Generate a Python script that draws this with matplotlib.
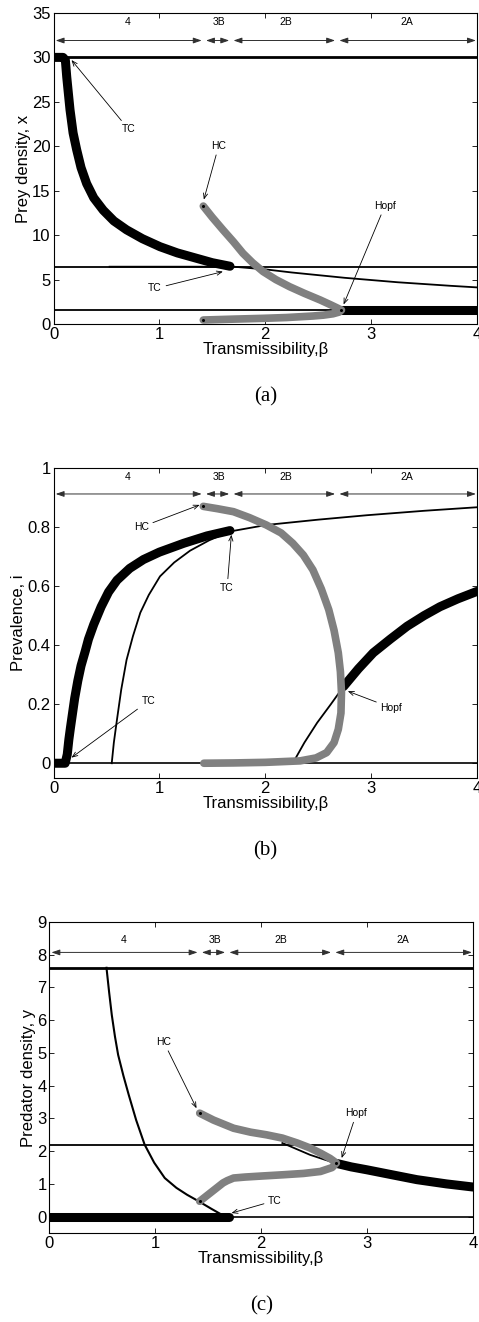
import matplotlib
matplotlib.use('Agg')
import matplotlib.pyplot as plt
from matplotlib.ticker import FormatStrFormatter

plt.rcParams['font.family'] = ['Liberation Sans', 'DejaVu Sans']

BLACK = 'black'
GRAY = '#808080'

# regions along the beta axis (double arrows on top of each panel)
region_labels = ['4', '3B', '2B', '2A']
region_label_pos = [0.70, 1.56, 2.19, 3.34]
region_starts = [0.02, 1.44, 1.70, 2.70]
region_ends = [1.40, 1.66, 2.66, 3.99]

# ---- (a) prey density ----
a_levels = [30.0, 6.45, 1.57]
a_stable_beta = [0, 0.09, 0.112, 0.125, 0.14, 0.156, 0.185, 0.219, 0.26, 0.313, 0.38,
                 0.47, 0.57, 0.69, 0.84, 1.006, 1.17, 1.35, 1.5, 1.667]
a_stable_x = [30, 30, 29.7, 27.8, 26.0, 24.1, 21.5, 19.6, 17.6, 15.8, 14.2,
              12.8, 11.6, 10.6, 9.6, 8.7, 8.0, 7.4, 6.9, 6.5]
a_branch_beta = [0.53, 1.7, 1.85, 2.0, 2.25, 2.5, 2.75, 3.0, 3.25, 3.5, 3.75, 4.0]
a_branch_x = [6.45, 6.45, 6.3, 6.15, 5.8, 5.5, 5.2, 4.95, 4.7, 4.5, 4.3, 4.12]
a_hopf_beta = [2.72, 4.0]
a_hopf_x = [1.57, 1.57]
a_cycle_beta = [1.415, 1.5, 1.6, 1.7, 1.79, 1.88, 1.98, 2.1, 2.23, 2.37, 2.52, 2.62, 2.69,
                2.72, 2.70, 2.64, 2.55, 2.45, 2.2, 1.98, 1.7, 1.415]
a_cycle_x = [13.27, 12.0, 10.6, 9.25, 7.95, 6.9, 5.9, 5.0, 4.2, 3.45, 2.7, 2.15, 1.75,
             1.57, 1.35, 1.15, 1.0, 0.9, 0.73, 0.64, 0.55, 0.45]

# ---- (b) prevalence ----
b_stable_beta = [0, 0.11, 0.13, 0.145, 0.16, 0.18, 0.20, 0.23, 0.26, 0.30, 0.33, 0.38,
                 0.45, 0.52, 0.60, 0.72, 0.85, 1.0, 1.23, 1.45, 1.667]
b_stable_i = [0, 0, 0.03, 0.08, 0.12, 0.17, 0.22, 0.28, 0.33, 0.38, 0.42, 0.47,
              0.53, 0.58, 0.62, 0.66, 0.69, 0.715, 0.745, 0.77, 0.788]
b_branch_beta = [0.55, 0.57, 0.60, 0.64, 0.69, 0.75, 0.82, 0.9, 1.006, 1.14, 1.29, 1.47,
                 1.667, 2.01, 2.5, 2.96, 3.5, 4.0]
b_branch_i = [0, 0.07, 0.149, 0.25, 0.35, 0.43, 0.51, 0.57, 0.633, 0.68, 0.72, 0.755,
              0.785, 0.807, 0.825, 0.84, 0.855, 0.867]
b_cycle_beta = [1.415, 1.55, 1.70, 1.85, 2.01, 2.15, 2.26, 2.36, 2.45, 2.53, 2.60, 2.65,
                2.69, 2.71, 2.72, 2.715, 2.69, 2.65, 2.58, 2.48, 2.33, 2.0, 1.7, 1.42]
b_cycle_i = [0.87, 0.862, 0.852, 0.832, 0.807, 0.78, 0.745, 0.705, 0.655, 0.59, 0.52, 0.45,
             0.374, 0.31, 0.239, 0.17, 0.115, 0.07, 0.036, 0.018, 0.008, 0.003, 0.001, 0.0]
b_unst_beta = [2.26, 2.37, 2.49, 2.62, 2.74]
b_unst_i = [0, 0.07, 0.137, 0.2, 0.26]
b_hopf_beta = [2.74, 2.88, 3.02, 3.18, 3.34, 3.5, 3.65, 3.82, 4.0]
b_hopf_i = [0.26, 0.32, 0.374, 0.42, 0.464, 0.5, 0.53, 0.557, 0.582]

# ---- (c) predator density ----
c_levels = [7.6, 2.2, 0.0]
c_zero_beta = [0, 1.70]
c_zero_y = [0, 0]
c_branch_beta = [0.54, 0.565, 0.59, 0.62, 0.65, 0.70, 0.75, 0.82, 0.90, 0.99, 1.09, 1.2,
                 1.3, 1.41, 1.53, 1.66]
c_branch_y = [7.6, 6.85, 6.16, 5.5, 4.94, 4.3, 3.72, 2.95, 2.2, 1.65, 1.18, 0.88,
              0.67, 0.47, 0.24, 0.0]
c_cycle_beta = [1.42, 1.55, 1.74, 1.9, 2.05, 2.2, 2.34, 2.46, 2.56, 2.65, 2.71, 2.67,
                2.56, 2.4, 2.21, 2.0, 1.85, 1.74, 1.68, 1.64, 1.53, 1.42]
c_cycle_y = [3.16, 2.95, 2.70, 2.58, 2.5, 2.4, 2.25, 2.1, 1.94, 1.78, 1.64, 1.5,
             1.38, 1.32, 1.28, 1.24, 1.21, 1.18, 1.1, 1.03, 0.75, 0.47]
c_unst_beta = [2.2, 2.33, 2.46, 2.6, 2.72]
c_unst_y = [2.25, 2.07, 1.89, 1.74, 1.62]
c_hopf_beta = [2.72, 2.85, 3.0, 3.25, 3.47, 3.75, 4.0]
c_hopf_y = [1.62, 1.52, 1.43, 1.27, 1.13, 1.0, 0.905]


def thick(ax, x, y, color=BLACK, lw=6.5):
    ax.plot(x, y, color=color, lw=lw, solid_capstyle='round',
            solid_joinstyle='round', zorder=3)


def thin(ax, x, y, lw=1.1):
    ax.plot(x, y, color=BLACK, lw=lw, zorder=2)


def regions(ax, y_arrow, y_text):
    for s, e in zip(region_starts, region_ends):
        ax.annotate('', xy=(e, y_arrow), xytext=(s, y_arrow),
                    arrowprops=dict(arrowstyle='<|-|>,head_length=0.5,head_width=0.17',
                                    color='#303030', lw=0.7, shrinkA=0, shrinkB=0))
    for lab, xp in zip(region_labels, region_label_pos):
        ax.text(xp, y_text, lab, fontsize=7.5, ha='center', va='center')


def note(ax, label, tip, txt, ha='center', va='center'):
    ax.annotate(label, xy=tip, xytext=txt, fontsize=7.5, ha=ha, va=va,
                arrowprops=dict(arrowstyle='->,head_length=0.5,head_width=0.2',
                                color=BLACK, lw=0.6, shrinkA=1, shrinkB=0))


def setup(ax, ylim, yticks, ylabel, caption):
    ax.set_xlim(0, 4)
    ax.set_ylim(*ylim)
    ax.set_xticks([0, 1, 2, 3, 4])
    ax.set_yticks(yticks)
    ax.yaxis.set_major_formatter(FormatStrFormatter('%g'))
    ax.tick_params(direction='in', top=True, right=True, length=3.5, width=0.6,
                   labelsize=12, pad=2)
    for sp in ax.spines.values():
        sp.set_linewidth(0.8)
    ax.set_xlabel('Transmissibility,β', fontsize=12, labelpad=0)
    ax.set_ylabel(ylabel, fontsize=12, labelpad=1)
    ax.text(0.5, -0.235, caption, transform=ax.transAxes, ha='center', va='center',
            fontsize=15, family=['Liberation Serif', 'DejaVu Serif'])


def dots(ax, pts):
    for p in pts:
        ax.plot(*p, 'o', color=BLACK, ms=1.2, zorder=5)


fig = plt.figure(figsize=(4.79, 13.22), dpi=100)

# (a)
ax = fig.add_axes([0.1117, 0.7549, 0.8841, 0.2353])
for lv, w in zip(a_levels, [2.0, 1.3, 1.3]):
    ax.axhline(lv, color=BLACK, lw=w, zorder=2)
thin(ax, a_branch_beta, a_branch_x, lw=1.3)
thick(ax, a_stable_beta, a_stable_x)
thick(ax, a_hopf_beta, a_hopf_x)
thick(ax, a_cycle_beta, a_cycle_x, color=GRAY, lw=5.5)
dots(ax, [(1.415, 13.27), (2.72, 1.57), (1.415, 0.45)])
regions(ax, 31.9, 34.0)
note(ax, 'TC', (0.17, 29.7), (0.71, 21.9))
note(ax, 'HC', (1.42, 14.0), (1.56, 20.05))
note(ax, 'Hopf', (2.74, 2.2), (3.13, 13.3))
note(ax, 'TC', (1.60, 5.9), (0.96, 4.0))
setup(ax, (0, 35), range(0, 36, 5), 'Prey density, x', '(a)')

# (b)
ax = fig.add_axes([0.1117, 0.4115, 0.8841, 0.2345])
ax.axhline(0, color=BLACK, lw=1.2, zorder=2)
thin(ax, b_branch_beta, b_branch_i, lw=1.3)
thin(ax, b_unst_beta, b_unst_i, lw=1.3)
thick(ax, b_stable_beta, b_stable_i)
thick(ax, b_hopf_beta, b_hopf_i)
thick(ax, b_cycle_beta, b_cycle_i, color=GRAY, lw=5.5)
dots(ax, [(1.415, 0.87)])
regions(ax, 0.912, 0.97)
note(ax, 'HC', (1.38, 0.875), (0.83, 0.80))
note(ax, 'TC', (1.68, 0.774), (1.64, 0.594))
note(ax, 'TC', (0.17, 0.019), (0.895, 0.21))
note(ax, 'Hopf', (2.78, 0.244), (3.19, 0.188))
setup(ax, (-0.05, 1), [0, 0.2, 0.4, 0.6, 0.8, 1], 'Prevalence, i', '(b)')

# (c)
ax = fig.add_axes([0.1029, 0.0673, 0.8846, 0.2353])
for lv, w in zip(c_levels, [2.0, 1.3, 1.2]):
    ax.axhline(lv, color=BLACK, lw=w, zorder=2)
thin(ax, c_branch_beta, c_branch_y, lw=1.5)
thin(ax, c_unst_beta, c_unst_y, lw=1.3)
thick(ax, c_zero_beta, c_zero_y)
thick(ax, c_hopf_beta, c_hopf_y)
thick(ax, c_cycle_beta, c_cycle_y, color=GRAY, lw=5.5)
dots(ax, [(1.42, 3.16), (2.71, 1.64), (1.42, 0.47)])
regions(ax, 8.07, 8.45)
note(ax, 'HC', (1.39, 3.31), (1.08, 5.34))
note(ax, 'Hopf', (2.76, 1.79), (2.90, 3.16))
note(ax, 'TC', (1.72, 0.11), (2.13, 0.49))
setup(ax, (-0.5, 9), range(0, 10), 'Predator density, y', '(c)')

fig.savefig('out.png', dpi=100)
